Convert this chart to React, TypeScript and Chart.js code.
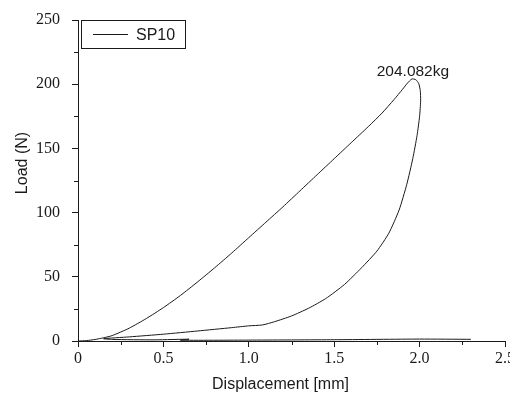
import { useEffect, useRef } from "react";
import { Chart, registerables } from "chart.js";

Chart.register(...registerables);

// Load–displacement loop of specimen SP10 (loading branch, unloading branch, residual tail)
const seriesLabel = "SP10";
const displacementMm = [
  0, 0.05, 0.1, 0.15, 0.2, 0.3, 0.4, 0.5, 0.6, 0.7, 0.8, 0.9, 1.0, 1.1, 1.2, 1.3, 1.4, 1.5, 1.6,
  1.7, 1.78, 1.85, 1.9, 1.93, 1.955, 1.978, 1.995, 2.004, 2.006, 2.0, 1.985, 1.96, 1.925, 1.88,
  1.82, 1.75, 1.66, 1.56, 1.45, 1.35, 1.25, 1.15, 1.08, 1.0, 0.9, 0.7, 0.5, 0.3, 0.15, 0.2, 0.45,
  0.65, 0.6, 1.0, 1.5, 2.0, 2.3,
];
const loadN = [
  0, 0.3, 1.2, 2.5, 4.2, 10, 17.5, 26, 35.5, 46, 57, 68.5, 80.5, 92.5, 104.5, 117, 129.5, 142, 154.5,
  167, 177.5, 188, 196, 201, 204.082, 203.5, 200.5, 195, 187, 175, 160, 142, 122, 102,
  84, 70, 57, 44, 33, 25.5, 19.5, 15, 12.5, 11.8, 10.4, 7.8, 5.3, 3.2, 1.8, 1.2, 0.9,
  1.4, 0.6, 0.7, 1.0, 1.5, 1.3,
];
const xMinorTicks = [0.25, 0.75, 1.25, 1.75, 2.25];
const yMinorTicks = [25, 75, 125, 175, 225];
const xTitle = "Displacement [mm]";
const yTitle = "Load (N)";
const peakUnit = "kg";

const INK = "#1a1a1a";
const SANS = "'Liberation Sans', Arial, sans-serif";
const SERIF = "'Liberation Serif', 'Times New Roman', serif";

const overlayPlugin = {
  id: "overlay",
  afterDraw(chart: any) {
    const { ctx, chartArea, scales } = chart;
    const xs = scales.x;
    const ys = scales.y;
    ctx.save();
    ctx.strokeStyle = INK;
    ctx.lineWidth = 1;

    // minor ticks
    ctx.beginPath();
    for (const v of xMinorTicks) {
      const px = Math.round(xs.getPixelForValue(v)) + 0.5;
      ctx.moveTo(px, chartArea.bottom);
      ctx.lineTo(px, chartArea.bottom + 4);
    }
    for (const v of yMinorTicks) {
      const py = Math.round(ys.getPixelForValue(v)) + 0.5;
      ctx.moveTo(chartArea.left, py);
      ctx.lineTo(chartArea.left - 4, py);
    }
    ctx.stroke();

    // legend box
    const bx = chartArea.left + 3;
    const by = chartArea.top + 0.5;
    ctx.fillStyle = "#fff";
    ctx.fillRect(bx, by, 104, 28);
    ctx.strokeRect(bx + 0.5, by, 104, 28);
    ctx.beginPath();
    ctx.moveTo(bx + 12, by + 14);
    ctx.lineTo(bx + 47, by + 14);
    ctx.stroke();
    ctx.fillStyle = INK;
    ctx.font = `16px ${SANS}`;
    ctx.textAlign = "left";
    ctx.textBaseline = "middle";
    ctx.fillText(chart.data.datasets[0].label, bx + 55, by + 15);

    // peak annotation
    const pts = chart.data.datasets[0].data;
    let peak = pts[0];
    for (const p of pts) if (p.y > peak.y) peak = p;
    ctx.textAlign = "center";
    ctx.textBaseline = "alphabetic";
    ctx.font = `15.5px ${SANS}`;
    ctx.fillText(`${peak.y.toFixed(3)}${peakUnit}`, xs.getPixelForValue(peak.x) + 1, ys.getPixelForValue(peak.y) - 3);

    // axis titles
    ctx.font = `16px ${SANS}`;
    ctx.fillText(xTitle, (chartArea.left + chartArea.right) / 2 - 11, chartArea.bottom + 48);
    ctx.translate(27, 163);
    ctx.rotate(-Math.PI / 2);
    ctx.fillText(yTitle, 0, 0);
    ctx.restore();
  },
};

export default function App() {
  const ref = useRef<HTMLCanvasElement>(null);

  useEffect(() => {
    const canvas = ref.current;
    if (!canvas) return;
    const chart = new Chart(canvas, {
      type: "line",
      data: {
        datasets: [
          {
            label: seriesLabel,
            data: displacementMm.map((x, i) => ({ x, y: loadN[i] })),
            borderColor: INK,
            borderWidth: 1,
            pointRadius: 0,
            tension: 0.2,
            fill: false,
          },
        ],
      },
      options: {
        responsive: false,
        animation: false,
        devicePixelRatio: 1,
        layout: { padding: { top: 20, right: 5, left: 0, bottom: 0 } },
        plugins: { legend: { display: false }, tooltip: { enabled: false } },
        scales: {
          x: {
            type: "linear",
            min: 0,
            max: 2.5,
            afterFit(s: any) {
              s.height = 53;
              s.paddingLeft = 0;
              s.paddingRight = 0;
            },
            ticks: { stepSize: 0.5, color: INK, font: { family: SERIF, size: 16 }, padding: 2, maxRotation: 0 },
            grid: { drawOnChartArea: false, drawTicks: true, tickLength: 6, color: INK },
            border: { display: true, color: INK, width: 1 },
          },
          y: {
            type: "linear",
            min: 0,
            max: 250,
            afterFit(s: any) {
              s.width = 78;
              s.paddingTop = 0;
              s.paddingBottom = 0;
            },
            ticks: { stepSize: 50, color: INK, font: { family: SERIF, size: 16 }, padding: 12 },
            grid: { drawOnChartArea: false, drawTicks: true, tickLength: 6, color: INK },
            border: { display: true, color: INK, width: 1 },
          },
        },
      },
      plugins: [overlayPlugin],
    });
    return () => chart.destroy();
  }, []);

  return (
    <div style={{ position: "absolute", left: 0, top: 0, width: 510, height: 394, background: "#fff" }}>
      <canvas ref={ref} width={510} height={394} />
    </div>
  );
}
